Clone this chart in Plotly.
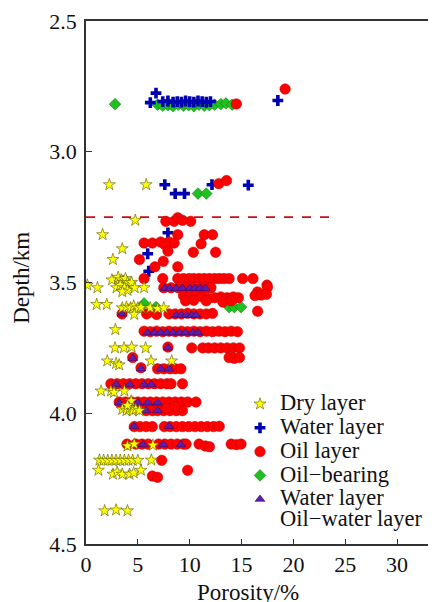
import plotly.graph_objects as go

# ---------------- data (porosity %, depth km) ----------------
dry_por = [2.25, 5.8, 4.75, 1.6, 3.5, 2.6,
           0.13, 1.1, 2.5, 2.95, 3.1, 3.4, 3.6, 3.8, 3.3, 4.0, 4.2, 3.7, 4.4, 4.0, 3.5, 4.7, 5.6,
           1.03, 2.0, 3.5, 3.9, 4.3, 4.6, 5.0, 5.3, 6.2, 6.9, 7.5,
           4.65, 2.83,
           2.8, 3.66, 4.4, 5.75,
           2.05, 2.9, 3.2, 6.27, 8.26,
           1.45, 2.4, 2.7, 3.7,
           4.35,
           3.5, 3.9, 4.2, 4.5, 4.8, 5.15, 4.0,
           4.0, 4.65, 6.45,
           1.3, 1.7, 2.1, 2.5, 2.9, 3.3, 3.7, 4.1, 4.5, 5.0, 6.3,
           1.2, 2.6, 3.0, 3.5, 4.2, 4.6, 5.3,
           1.8, 2.9, 4.0]
dry_dep = [3.126, 3.126, 3.262, 3.317, 3.371, 3.412,
           3.51, 3.52, 3.49, 3.52, 3.48, 3.49, 3.50, 3.485, 3.51, 3.50, 3.51, 3.52, 3.50, 3.53, 3.535, 3.52, 3.52,
           3.584, 3.584, 3.597, 3.594, 3.597, 3.59, 3.597, 3.595, 3.597, 3.60, 3.597,
           3.622, 3.68,
           3.75, 3.75, 3.747, 3.75,
           3.80, 3.81, 3.815, 3.80, 3.80,
           3.915, 3.915, 3.92, 3.915,
           3.953,
           3.985, 3.99, 3.98, 3.99, 3.985, 3.99, 3.97,
           4.125, 4.118, 4.122,
           4.179, 4.18, 4.18, 4.18, 4.18, 4.18, 4.18, 4.18, 4.18, 4.18, 4.179,
           4.218, 4.233, 4.225, 4.233, 4.233, 4.228, 4.218,
           4.373, 4.37, 4.373]

water_por = [6.75, 6.2, 7.4, 7.9, 8.4, 8.8, 9.2, 9.6, 10.0, 10.4, 10.8, 11.2, 11.6, 12.0, 18.5,
             7.6, 8.6, 9.5, 12.15, 15.65,
             7.9, 5.95, 6.05]
water_dep = [2.776, 2.812, 2.808, 2.806, 2.81, 2.808, 2.81, 2.806, 2.808, 2.81, 2.806, 2.808, 2.81, 2.808, 2.804,
             3.126, 3.16, 3.16, 3.126, 3.128,
             3.31, 3.39, 3.457]

oil_por = [14.5, 19.2, 12.8, 13.55,
           7.7, 8.5, 8.85, 9.3, 10.1,
           8.85, 11.4, 12.2,
           5.6, 6.4, 7.2, 8.0, 8.5, 7.6, 11.1,
           7.9, 10.35, 12.5,
           5.15, 7.45, 8.85, 6.65,
           5.6, 7.4, 8.85, 9.4, 9.95, 10.4, 10.9, 11.4, 11.9, 12.4, 12.85, 13.3, 13.8, 15.1, 16.1,
           17.45,
           7.5, 8.2, 8.9, 9.6, 10.3, 11.0, 11.6, 12.05, 16.55, 17.5,
           9.4, 10.0, 10.6, 11.2, 11.8, 12.4, 13.0, 13.6, 14.2, 14.7, 9.6, 10.4, 11.6, 13.2, 14.0, 16.3, 16.9, 17.4,
           16.55,
           3.47, 5.85, 6.8, 8.0, 8.6, 9.2, 9.8, 10.4, 11.0, 11.6, 12.2,
           5.6, 6.2, 6.8, 7.4, 8.0, 8.6, 9.2, 9.8, 10.4, 11.0, 11.6, 12.2, 12.8, 13.4, 14.0, 14.6,
           7.9, 10.2, 11.25, 11.8, 12.4, 13.0, 13.6, 14.2, 14.8,
           13.8, 14.3, 14.8, 4.5,
           5.3, 6.9, 7.5, 8.1, 8.6, 9.15,
           2.4, 3.0, 3.6, 4.2, 4.8, 5.4, 6.0, 6.6, 7.2, 7.8, 8.2, 9.3,
           3.2, 3.8, 4.4, 5.0, 5.6, 6.2, 6.8, 7.4, 8.0, 8.6, 9.2, 9.8, 10.6,
           5.8, 6.4, 6.9, 7.5, 8.1, 8.7, 9.3, 7.8, 8.6,
           4.65, 5.2, 5.8, 6.4, 7.55, 8.1, 8.7, 9.3, 9.9, 10.5, 11.1, 11.7, 12.3, 12.85,
           3.95, 4.8, 5.4, 6.0, 7.0, 7.6, 8.2, 8.8, 9.4, 9.65, 10.9, 11.5, 11.9, 14.0, 14.5, 14.95,
           7.3, 9.8, 6.4, 6.9]
oil_dep = [2.817, 2.76, 3.122, 3.11,
           3.266, 3.266, 3.252, 3.262, 3.266,
           3.317, 3.317, 3.317,
           3.349, 3.349, 3.345, 3.345, 3.349, 3.355, 3.352,
           3.38, 3.384, 3.384,
           3.412, 3.419, 3.44, 3.44,
           3.485, 3.485, 3.485, 3.485, 3.485, 3.485, 3.485, 3.485, 3.485, 3.485, 3.485, 3.485, 3.485, 3.485, 3.485,
           3.51,
           3.52, 3.52, 3.52, 3.52, 3.52, 3.52, 3.52, 3.52, 3.536, 3.518,
           3.55, 3.55, 3.55, 3.555, 3.56, 3.558, 3.555, 3.558, 3.555, 3.558, 3.57, 3.568, 3.57, 3.575, 3.57, 3.55, 3.548, 3.545,
           3.61,
           3.62, 3.62, 3.622, 3.62, 3.62, 3.62, 3.618, 3.62, 3.62, 3.62, 3.618,
           3.686, 3.688, 3.686, 3.688, 3.686, 3.688, 3.686, 3.688, 3.686, 3.688, 3.686, 3.688, 3.686, 3.688, 3.686, 3.688,
           3.747, 3.75, 3.75, 3.75, 3.75, 3.75, 3.75, 3.75, 3.75,
           3.787, 3.79, 3.787, 3.787,
           3.826, 3.83, 3.83, 3.83, 3.83, 3.83,
           3.887, 3.887, 3.887, 3.887, 3.887, 3.887, 3.887, 3.887, 3.887, 3.887, 3.887, 3.887,
           3.957, 3.957, 3.957, 3.957, 3.957, 3.957, 3.957, 3.957, 3.957, 3.957, 3.957, 3.957, 3.957,
           3.99, 3.99, 3.99, 3.99, 3.99, 3.99, 3.99, 3.98, 3.975,
           4.051, 4.051, 4.051, 4.051, 4.051, 4.051, 4.051, 4.051, 4.051, 4.051, 4.051, 4.051, 4.051, 4.05,
           4.118, 4.118, 4.118, 4.118, 4.118, 4.118, 4.118, 4.118, 4.118, 4.118, 4.118, 4.125, 4.128, 4.118, 4.12, 4.118,
           4.18, 4.218, 4.24, 4.245]

bearing_por = [2.8, 6.9, 7.4, 7.9, 8.4, 8.9, 9.4, 9.9, 10.4, 10.9, 11.4, 11.9, 12.4, 13.0, 13.5, 14.1,
               10.8, 11.6,
               5.6, 6.75, 13.8, 14.3, 14.95]
bearing_dep = [2.818, 2.82, 2.824, 2.822, 2.826, 2.82, 2.824, 2.822, 2.826, 2.82, 2.824, 2.822, 2.82, 2.818, 2.815, 2.82,
               3.16, 3.16,
               3.58, 3.594, 3.594, 3.594, 3.594]

ow_por = [7.6, 8.1, 8.7, 9.3, 10.0, 10.5, 11.0, 11.5,
          3.47, 8.7, 9.2, 9.7, 10.2, 10.6,
          5.95, 6.6, 7.2, 7.8, 8.4, 9.0, 9.6, 10.3, 10.8,
          7.9,
          4.5, 5.3, 7.2, 8.0,
          2.9, 4.2, 5.6, 6.3,
          3.2, 5.0, 5.95, 6.9,
          5.8, 6.9,
          4.65, 8.0,
          5.5, 7.45, 9.15]
ow_dep = [3.522, 3.522, 3.522, 3.522, 3.522, 3.522, 3.522, 3.522,
          3.62, 3.625, 3.625, 3.625, 3.625, 3.625,
          3.692, 3.692, 3.692, 3.692, 3.692, 3.692, 3.692, 3.692, 3.692,
          3.75,
          3.79, 3.83, 3.83, 3.83,
          3.89, 3.89, 3.89, 3.89,
          3.96, 3.96, 3.96, 3.96,
          3.99, 3.99,
          4.05, 4.05,
          4.12, 4.12, 4.12]

boundary_depth = 3.25
boundary_por_end = 24

x_ticks = [0, 5, 10, 15, 20, 25, 30]
y_ticks = [2.5, 3.0, 3.5, 4.0, 4.5]

FONT = "Liberation Serif, Times New Roman, Times, serif"
LBL = '<span style="font-size:22.5px">{}</span>'

fig = go.Figure()

fig.add_trace(go.Scatter(
    x=bearing_por, y=bearing_dep, mode="markers", name=LBL.format("Oil−bearing"), legendrank=4,
    marker=dict(symbol="diamond", size=9, color="#20c020", line=dict(color="#0a700a", width=0.5))))
fig.add_trace(go.Scatter(
    x=water_por, y=water_dep, mode="markers", name=LBL.format("Water layer"), legendrank=2,
    marker=dict(symbol="cross", size=9, color="#0000b0", line=dict(width=0))))
fig.add_trace(go.Scatter(
    x=oil_por, y=oil_dep, mode="markers", name=LBL.format("Oil layer"), legendrank=3,
    marker=dict(symbol="circle", size=10.5, color="#ff0000", line=dict(color="#c00000", width=0.5))))
fig.add_trace(go.Scatter(
    x=ow_por, y=ow_dep, mode="markers",
    name=LBL.format("Water layer") + "<br>" + LBL.format("Oil−water layer"), legendrank=5,
    marker=dict(symbol="triangle-up", size=8.5, color="#5b1fb0", line=dict(color="#400060", width=0.6))))
fig.add_trace(go.Scatter(
    x=dry_por, y=dry_dep, mode="markers", name=LBL.format("Dry layer"), legendrank=1,
    marker=dict(symbol="star", size=9, color="#ffff00", line=dict(color="#5a5a00", width=0.6))))

fig.add_shape(type="line", xref="x", yref="y", x0=0, x1=boundary_por_end,
              y0=boundary_depth, y1=boundary_depth,
              line=dict(color="#cc1010", width=1.6, dash="dash"))

fig.update_layout(
    width=428, height=594,
    margin=dict(l=78, r=0, t=13, b=58),
    paper_bgcolor="white", plot_bgcolor="white",
    font=dict(family=FONT, size=22, color="#111111"),
    showlegend=True,
    legend=dict(x=0.44, y=0.30, xanchor="left", yanchor="top",
                font=dict(family=FONT, size=16, color="#111111"),
                bgcolor="rgba(0,0,0,0)", valign="top", tracegroupgap=0),
    xaxis=dict(range=[0, 33.75], tickvals=x_ticks, ticks="inside", ticklen=5, tickcolor="#333333",
               showgrid=False, zeroline=False,
               showline=True, linecolor="#333333", linewidth=1.5, mirror=True,
               tickfont=dict(family=FONT, size=22)),
    yaxis=dict(range=[4.5, 2.5], tickvals=y_ticks, tickformat=".1f", ticks="inside", ticklen=6,
               tickcolor="#333333", showgrid=False, zeroline=False, showline=True,
               linecolor="#333333", linewidth=1.5, ticklabelstandoff=3,
               tickfont=dict(family=FONT, size=22)),
    annotations=[
        dict(text="Depth/km", xref="paper", yref="paper", x=-0.183, y=0.509, textangle=-90,
             showarrow=False, xanchor="center", yanchor="middle", font=dict(family=FONT, size=23)),
        dict(text="Porosity/%", xref="paper", yref="paper", x=0.463, y=-0.092,
             showarrow=False, xanchor="center", yanchor="middle", font=dict(family=FONT, size=23)),
    ],
)

fig.write_html("out.html")
